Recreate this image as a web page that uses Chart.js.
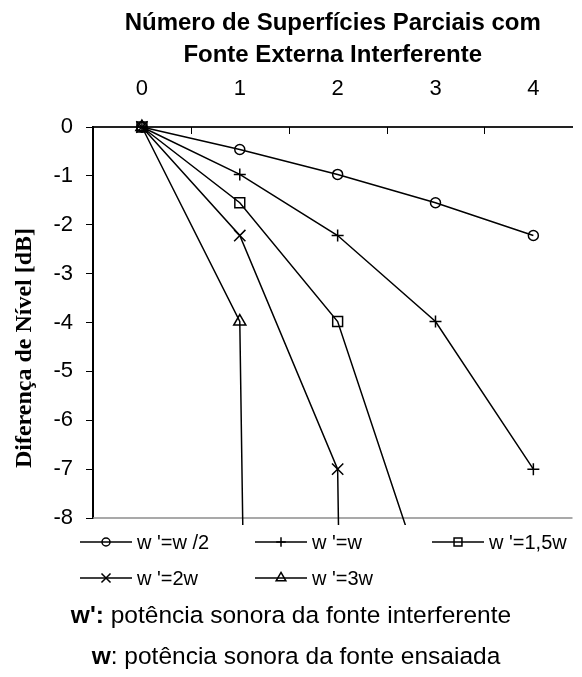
<!DOCTYPE html>
<html>
<head>
<meta charset="utf-8">
<script src="https://cdn.jsdelivr.net/npm/chart.js@4/dist/chart.umd.min.js"></script>
<style>
    body { margin: 0; background: #fff; }
    #wrap { position: relative; width: 582px; height: 677px; }
    .nota {
        position: absolute;
        left: 0;
        width: 582px;
        text-align: center;
        font: 24.5px "Liberation Sans", Arial, sans-serif;
        color: #000;
        line-height: 28px;
        white-space: nowrap;
    }
</style>
</head>
<body>
<div id="wrap">
    <canvas id="grafico" width="582" height="677"></canvas>
    <div class="nota" style="top: 601px;"><b>w':</b> potência sonora da fonte interferente</div>
    <div class="nota" style="top: 642px; left: 5px;"><b>w</b>: potência sonora da fonte ensaiada</div>
</div>
<script>
// número de superfícies parciais (eixo x)
const categorias = [0, 1, 2, 3, 4];

// diferença de nível [dB] para cada potência da fonte interferente
const serieMeioW    = [0, -0.46, -0.97, -1.55, -2.22];
const serieUmW      = [0, -0.97, -2.22, -3.98, -7.0];
const serieUmEMeioW = [0, -1.55, -3.98, -10.0];
const serieDoisW    = [0, -2.22, -7.0, -140];
const serieTresW    = [0, -3.98, -140];

const legendas = ["w '=w /2", "w '=w", "w '=1,5w", "w '=2w", "w '=3w"];
const ticksY = [0, -1, -2, -3, -4, -5, -6, -7, -8];

const tituloLinhas = ['Número de Superfícies Parciais com', 'Fonte Externa Interferente'];
const tituloY = 'Diferença de Nível [dB]';

const FONTE = '"Liberation Sans", Arial, sans-serif';

function pontos(serie) {
    return serie.map((v, i) => ({ x: categorias[i], y: v }));
}

function serie(label, valores, estilo, raio) {
    return {
        label: label,
        data: pontos(valores),
        borderColor: '#000',
        borderWidth: 1.5,
        pointStyle: estilo,
        pointRadius: raio,
        pointHoverRadius: raio,
        pointBorderColor: '#000',
        pointBorderWidth: 1.5,
        pointBackgroundColor: 'rgba(0,0,0,0)',
        showLine: true,
        tension: 0,
        clip: { left: 10, top: 10, right: 10, bottom: 7 }
    };
}

// moldura, marcas do eixo superior, títulos e legenda
const decoracao = {
    id: 'decoracao',
    beforeDatasetsDraw(chart) {
        const { ctx, chartArea: a, scales: { x } } = chart;
        ctx.save();
        ctx.strokeStyle = '#8c8c8c';
        ctx.lineWidth = 1.5;
        ctx.beginPath();
        ctx.moveTo(a.left, a.bottom);
        ctx.lineTo(a.right, a.bottom);
        ctx.stroke();

        // marcas entre as categorias, voltadas para dentro
        ctx.strokeStyle = '#000';
        ctx.lineWidth = 1;
        categorias.forEach(c => {
            [c - 0.5, c + 0.5].forEach(v => {
                const px = Math.round(x.getPixelForValue(v)) + 0.5;
                if (px < a.left || px > a.right) return;
                ctx.beginPath();
                ctx.moveTo(px, a.top);
                ctx.lineTo(px, a.top + 7);
                ctx.stroke();
            });
        });
        ctx.restore();
    },
    afterDraw(chart) {
        const { ctx, chartArea: a } = chart;
        ctx.save();
        ctx.fillStyle = '#000';
        ctx.textAlign = 'center';
        ctx.textBaseline = 'middle';

        ctx.font = 'bold 24px ' + FONTE;
        tituloLinhas.forEach((t, i) => ctx.fillText(t, (a.left + a.right) / 2, 23 + i * 32));

        ctx.save();
        ctx.translate(25, 348);
        ctx.rotate(-Math.PI / 2);
        ctx.font = 'bold 24px "Liberation Serif", "Times New Roman", serif';
        ctx.fillText(tituloY, 0, 0);
        ctx.restore();

        // legenda em duas linhas de três colunas
        const colunas = [80, 255, 432];
        const linhas = [542, 578];
        ctx.font = '20px ' + FONTE;
        ctx.textAlign = 'left';
        chart.data.datasets.forEach((ds, i) => {
            const x0 = colunas[i % 3];
            const y0 = linhas[Math.floor(i / 3)];
            ctx.strokeStyle = ds.borderColor;
            ctx.lineWidth = ds.borderWidth;
            ctx.beginPath();
            ctx.moveTo(x0, y0);
            ctx.lineTo(x0 + 52, y0);
            ctx.stroke();
            ctx.fillStyle = 'rgba(0,0,0,0)';
            Chart.helpers.drawPoint(ctx, {
                pointStyle: ds.pointStyle,
                radius: ds.pointRadius * 0.8,
                rotation: 0,
                borderWidth: ds.pointBorderWidth
            }, x0 + 26, y0);
            ctx.fillStyle = '#000';
            ctx.fillText(ds.label, x0 + 57, y0 + 1);
        });
        ctx.restore();
    }
};

new Chart(document.getElementById('grafico'), {
    type: 'scatter',
    data: {
        datasets: [
            serie(legendas[0], serieMeioW, 'circle', 5),
            serie(legendas[1], serieUmW, 'cross', 6),
            serie(legendas[2], serieUmEMeioW, 'rect', 7),
            serie(legendas[3], serieDoisW, 'crossRot', 8),
            serie(legendas[4], serieTresW, 'triangle', 7)
        ]
    },
    options: {
        responsive: false,
        animation: false,
        events: [],
        layout: { padding: { left: 0, right: 0, top: 0, bottom: 159 } },
        plugins: {
            legend: { display: false },
            title: { display: false },
            tooltip: { enabled: false }
        },
        scales: {
            x: {
                type: 'linear',
                position: 'top',
                min: -0.5,
                max: 4.4,
                afterBuildTicks: s => { s.ticks = categorias.map(v => ({ value: v })); },
                afterFit: s => { s.height = 127; },
                grid: { display: true, drawOnChartArea: false, drawTicks: false },
                border: { color: '#222', width: 2 },
                ticks: {
                    color: '#000',
                    padding: 25,
                    font: { family: FONTE, size: 22 },
                    maxRotation: 0
                }
            },
            y: {
                type: 'linear',
                min: -8,
                max: 0,
                afterBuildTicks: s => { s.ticks = ticksY.map(v => ({ value: v })); },
                afterFit: s => { s.width = 93; },
                grid: { drawOnChartArea: false, drawTicks: true, tickLength: 7, tickColor: '#000', tickWidth: 1 },
                border: { color: '#000', width: 2 },
                ticks: {
                    color: '#000',
                    padding: 13,
                    font: { family: FONTE, size: 22 }
                }
            }
        }
    },
    plugins: [decoracao]
});
</script>
</body>
</html>
